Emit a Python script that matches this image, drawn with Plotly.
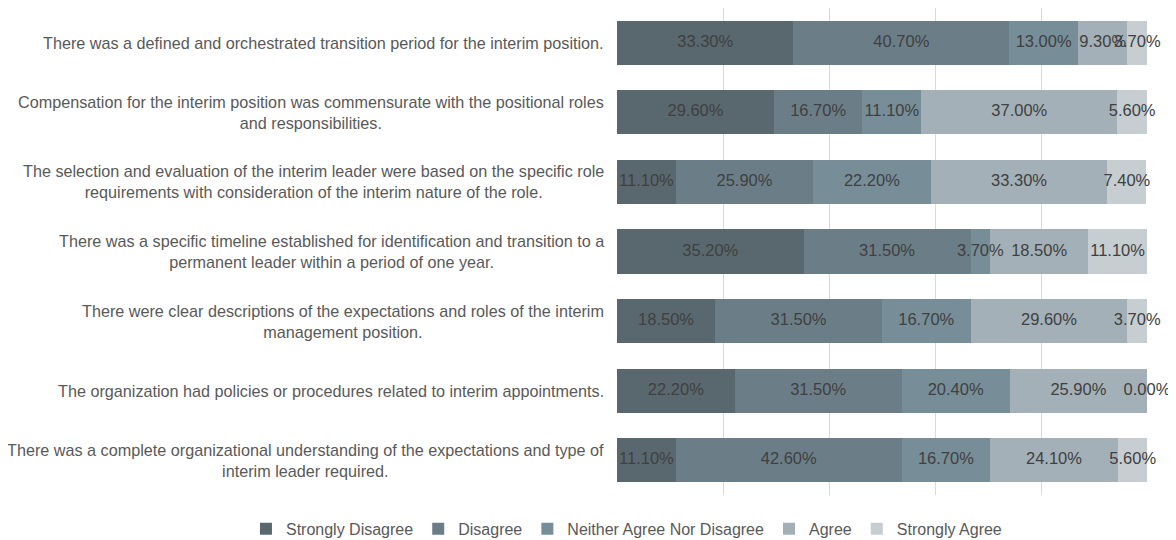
import plotly.graph_objects as go

categories = [
    "There was a defined and orchestrated transition period for the interim position.",
    "Compensation for the interim position was commensurate with the positional roles<br>and responsibilities.",
    "The selection and evaluation of the interim leader were based on the specific role<br>requirements with consideration of the interim nature of the role.",
    "There was a specific timeline established for identification and transition to a<br>permanent leader within a period of one year.",
    "There were clear descriptions of the expectations and roles of the interim<br>management position.",
    "The organization had policies or procedures related to interim appointments.",
    "There was a complete organizational understanding of the expectations and type of<br>interim leader required.",
]
series_names = ["Strongly Disagree", "Disagree", "Neither Agree Nor Disagree", "Agree", "Strongly Agree"]
strongly_disagree = [33.3, 29.6, 11.1, 35.2, 18.5, 22.2, 11.1]
disagree = [40.7, 16.7, 25.9, 31.5, 31.5, 31.5, 42.6]
neither = [13.0, 11.1, 22.2, 3.7, 16.7, 20.4, 16.7]
agree = [9.3, 37.0, 33.3, 18.5, 29.6, 25.9, 24.1]
strongly_agree = [3.7, 5.6, 7.4, 11.1, 3.7, 0.0, 5.6]
colors = ["#59686f", "#6b7e88", "#778e99", "#a4b0b7", "#c7ced2"]

series = [strongly_disagree, disagree, neither, agree, strongly_agree]
ids = list(range(len(categories)))

FONT = "Liberation Sans, Arial, sans-serif"

# the page body adds an 8px margin, so the figure is 8px smaller each way
W, H = 1168, 532

fig = go.Figure()
for name, vals, col in zip(series_names, series, colors):
    fig.add_trace(go.Bar(
        y=ids, x=vals, name=name, orientation="h",
        marker=dict(color=col, line=dict(width=0)),
        hoverinfo="x+name",
    ))

# data labels at segment centres
lx, ly, lt = [], [], []
for i in ids:
    start = 0.0
    for vals in series:
        v = vals[i]
        lx.append(start + v / 2)
        ly.append(i)
        lt.append(f"{v:.2f}%")
        start += v
fig.add_trace(go.Scatter(
    x=lx, y=ly, text=lt, mode="text", showlegend=False, hoverinfo="skip",
    textfont=dict(family=FONT, size=16.5, color="#404040"),
    cliponaxis=False,
))

for i, c in enumerate(categories):
    fig.add_annotation(
        x=0, xref="x domain", y=i, yref="y", text=c, showarrow=False,
        xanchor="right", yanchor="middle", align="center", xshift=-11,
        font=dict(family=FONT, size=16.2, color="#595959"),
    )

fig.update_layout(
    width=W, height=H,
    margin=dict(l=0, r=29, t=0, b=45),
    barmode="stack", bargap=0.367,
    plot_bgcolor="white", paper_bgcolor="white",
    font=dict(family=FONT, color="#595959"),
    xaxis=dict(domain=[609 / 1139, 1], range=[0, 100], dtick=20, showgrid=True,
               gridcolor="#d9d9d9", gridwidth=1, zeroline=False,
               showticklabels=False, fixedrange=True),
    yaxis=dict(autorange="reversed", showticklabels=False, showgrid=False,
               zeroline=False, range=[6.5, -0.5]),
    legend=dict(orientation="h", xref="container", yref="container",
                x=0.5295, y=0.021, xanchor="center", yanchor="middle",
                font=dict(family=FONT, size=16, color="#595959"),
                traceorder="normal", itemwidth=30),
)
fig.write_html("out.html")
